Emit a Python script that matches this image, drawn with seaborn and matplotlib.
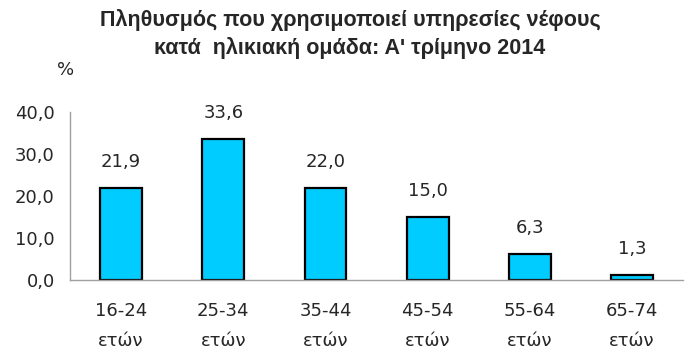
import matplotlib
matplotlib.use("Agg")
import matplotlib.pyplot as plt
import seaborn as sns
import pandas as pd

# data
age_groups = ["16-24\nετών", "25-34\nετών", "35-44\nετών", "45-54\nετών", "55-64\nετών", "65-74\nετών"]
shares = [21.9, 33.6, 22.0, 15.0, 6.3, 1.3]
y_ticks = [0, 10, 20, 30, 40]

df = pd.DataFrame({"group": age_groups, "share": shares})

sns.set_style("white")
plt.rcParams['font.family'] = ['DejaVu Sans']

fig = plt.figure(figsize=(7, 3.59), dpi=100)
ax = fig.add_axes([0.1, 0.22, 0.876, 0.468])

sns.barplot(data=df, x="group", y="share", color="#00CCFF", edgecolor="black",
            linewidth=1.6, width=0.41, saturation=1, ax=ax)

labels = [f"{v:.1f}".replace(".", ",") for v in shares]
ax.bar_label(ax.containers[0], labels=labels, padding=12, fontsize=13)

ax.set_ylim(0, 40)
ax.set_xlim(-0.5, 5.5)
ax.set_yticks(y_ticks)
ax.set_yticklabels([f"{t:.1f}".replace(".", ",") for t in y_ticks], fontsize=13)
ax.set_xticks(range(len(age_groups)))
ax.set_xticklabels(age_groups, fontsize=13, linespacing=1.85)
ax.set_xticks([0.5, 1.5, 2.5, 3.5, 4.5, 5.5], minor=True)
ax.tick_params(axis="x", which="major", length=0, pad=16)
ax.tick_params(axis="x", which="minor", length=5, color="#A0A0A0", width=1, direction="out")
ax.tick_params(axis="y", length=5, color="#A0A0A0", width=1, direction="out", pad=6)
ax.set_xlabel("")
ax.set_ylabel("")

for side in ["top", "right"]:
    ax.spines[side].set_visible(False)
for side in ["left", "bottom"]:
    ax.spines[side].set_color("#A0A0A0")
    ax.spines[side].set_linewidth(1)

fig.text(0.5, 0.906, "Πληθυσμός που χρησιμοποιεί υπηρεσίες νέφους\nκατά  ηλικιακή ομάδα: Α' τρίμηνο 2014",
         ha="center", va="center", fontsize=15.5, fontweight="bold",
         family=["Liberation Sans"], linespacing=1.35)
fig.text(0.093, 0.805, "%", ha="center", va="center", fontsize=13)

fig.savefig("out.png", dpi=100)
